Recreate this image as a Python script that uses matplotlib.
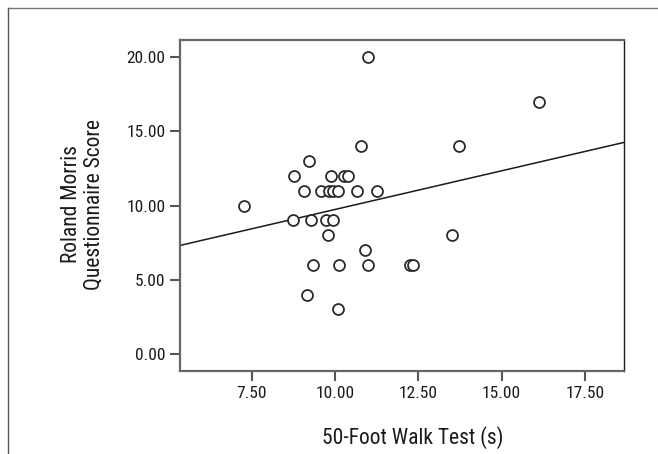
import numpy as np
import matplotlib
matplotlib.use("Agg")
import matplotlib.pyplot as plt
from matplotlib.lines import Line2D

plt.rcParams['font.family'] = ['Roboto Condensed', 'Archivo Narrow', 'DejaVu Sans']

# Data
walk_time = [11.00, 10.78, 13.72, 16.12, 9.23, 8.78, 9.88, 10.28, 10.38,
             9.08, 9.58, 9.83, 9.93, 10.10, 10.65, 11.25, 7.28,
             8.75, 9.28, 9.73, 9.93, 9.78, 13.50, 10.90,
             9.34, 10.11, 10.98, 12.25, 12.33, 9.17, 10.09]
rmq_score = [20, 14, 14, 17, 13, 12, 12, 12, 12,
             11, 11, 11, 11, 11, 11, 11, 10,
             9, 9, 9, 9, 8, 8, 7,
             6, 6, 6, 6, 6, 4, 3]

x_ticks = [7.5, 10.0, 12.5, 15.0, 17.5]
y_ticks = [0, 5, 10, 15, 20]
x_label = "50-Foot Walk Test (s)"
y_label = "Roland Morris\nQuestionnaire Score"

W, H = 658, 454
fig = plt.figure(figsize=(W / 100, H / 100), dpi=100)
ax = fig.add_axes([180 / W, 1 - 371 / H, (624 - 180) / W, (371 - 40) / H])

ax.set_xlim(5.35, 18.67)
ax.set_ylim(-1.14, 21.14)

ax.scatter(walk_time, rmq_score, s=62, facecolors='white', edgecolors='#2a2a2a',
           linewidths=1.3, zorder=3)

slope, intercept = np.polyfit(walk_time, rmq_score, 1)
xl = np.array(ax.get_xlim())
ax.plot(xl, intercept + slope * xl, color='#1a1a1a', lw=1.1, zorder=2)

ax.set_xticks(x_ticks)
ax.set_xticklabels([f"{v:.2f}" for v in x_ticks])
ax.set_yticks(y_ticks)
ax.set_yticklabels([f"{v:.2f}" for v in y_ticks])

ax.tick_params(axis='both', direction='out', length=7.5, width=1.5, color='#555555',
               labelsize=12.5, labelcolor='#1a1a1a', pad=3)

for side in ['left', 'top', 'bottom']:
    ax.spines[side].set_color('#666666')
    ax.spines[side].set_linewidth(1.6)
ax.spines['right'].set_color('#1a1a1a')
ax.spines['right'].set_linewidth(1.0)

ax.set_xlabel(x_label, fontsize=15.5, color='#1a1a1a')
ax.xaxis.label.set_va('center')
ax.xaxis.set_label_coords(0.524, -0.2)
ax.set_ylabel(y_label, fontsize=15.5, color='#1a1a1a', multialignment='center',
              linespacing=1.1)
ax.yaxis.label.set_va('center')
ax.yaxis.set_label_coords(-0.22, 0.503)

# outer frame (top and left)
fig.add_artist(Line2D([8 / W, 1.0], [1 - 8 / H, 1 - 8 / H], transform=fig.transFigure,
                      color='#777777', lw=1.0))
fig.add_artist(Line2D([8 / W, 8 / W], [0.0, 1 - 8 / H], transform=fig.transFigure,
                      color='#555555', lw=1.0))

fig.savefig("out.png", dpi=100)
